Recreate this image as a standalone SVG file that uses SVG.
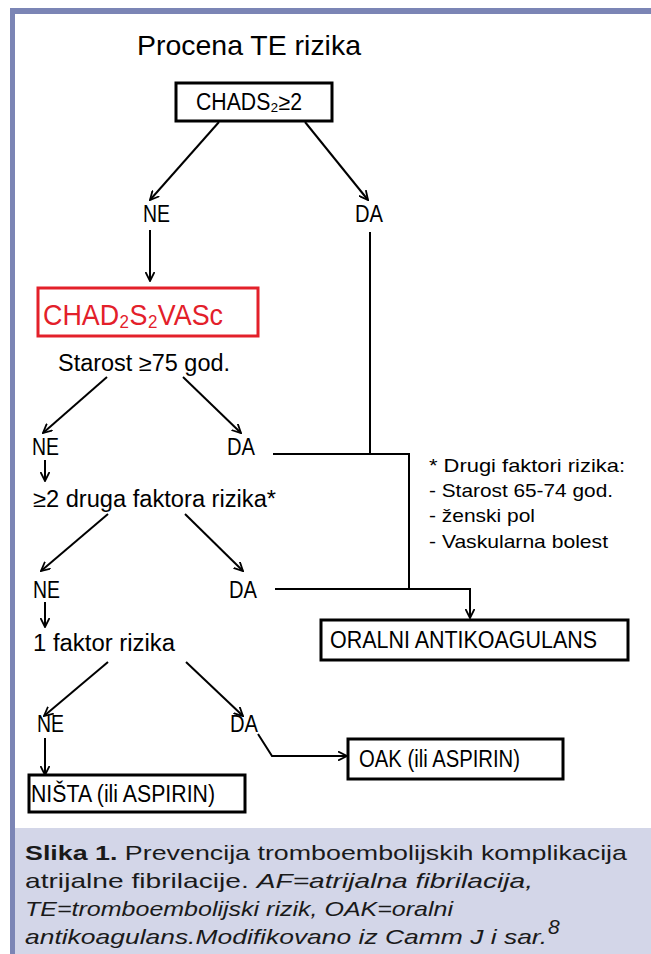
<svg xmlns="http://www.w3.org/2000/svg" width="651" height="954" viewBox="0 0 651 954">
<defs>
<style>
.t{font-family:"Liberation Sans",Arial,sans-serif;fill:#000}
.box{fill:#fff;stroke:#000;stroke-width:3}
.ln{fill:none;stroke:#000;stroke-width:2}
.cap{font-family:"Liberation Sans",Arial,sans-serif;font-size:21px;fill:#1a1a1a}
</style>
<marker id="ah" viewBox="0 0 10 10" refX="9" refY="5" markerWidth="10" markerHeight="10" markerUnits="userSpaceOnUse" orient="auto">
<path d="M0,0.5 L9,5 L0,9.5" fill="none" stroke="#000" stroke-width="1.8"/>
</marker>
</defs>
<rect x="0" y="0" width="651" height="954" fill="#fff"/>
<rect x="10" y="8" width="641" height="6" fill="#7b85b5"/>
<rect x="10" y="8" width="5" height="946" fill="#7b85b5"/>
<rect x="15" y="828" width="636" height="126" fill="#d3d6e8"/>

<g id="title"><text class="t" x="137" y="55" font-size="28" textLength="224" lengthAdjust="spacingAndGlyphs">Procena TE rizika</text></g>

<g id="connectors">
<line class="ln" x1="219" y1="122" x2="150" y2="200" marker-end="url(#ah)"/>
<line class="ln" x1="305" y1="122" x2="368" y2="200" marker-end="url(#ah)"/>
<line class="ln" x1="150" y1="230" x2="150" y2="281" marker-end="url(#ah)"/>
<line class="ln" x1="107" y1="377" x2="43" y2="433" marker-end="url(#ah)"/>
<line class="ln" x1="183" y1="377" x2="241" y2="433" marker-end="url(#ah)"/>
<line class="ln" x1="45" y1="460" x2="45" y2="481" stroke-width="1.6" marker-end="url(#ah)"/>
<line class="ln" x1="108" y1="514" x2="41" y2="571" marker-end="url(#ah)"/>
<line class="ln" x1="185" y1="514" x2="243" y2="571" marker-end="url(#ah)"/>
<line class="ln" x1="45" y1="602" x2="45" y2="627" stroke-width="1.6" marker-end="url(#ah)"/>
<line class="ln" x1="108" y1="662" x2="44" y2="716" marker-end="url(#ah)"/>
<line class="ln" x1="186" y1="662" x2="243" y2="716" marker-end="url(#ah)"/>
<line class="ln" x1="45" y1="738" x2="45" y2="775" stroke-width="1.6" marker-end="url(#ah)"/>
<polyline class="ln" points="258,734 272,756 347,756" marker-end="url(#ah)"/>
<polyline class="ln" points="370,232 370,454"/>
<polyline class="ln" points="273,454 409,454 409,589"/>
<polyline class="ln" points="275,589 470,589 470,618" marker-end="url(#ah)"/>
</g>

<g id="chads2">
<rect class="box" x="176" y="83" width="156" height="38"/>
<text class="t" x="196" y="110" font-size="23" textLength="106" lengthAdjust="spacingAndGlyphs">CHADS₂≥2</text>
</g>
<g id="ne1"><text class="t" x="143" y="222" font-size="23" textLength="27" lengthAdjust="spacingAndGlyphs">NE</text></g>
<g id="da1"><text class="t" x="355" y="222" font-size="23" textLength="28" lengthAdjust="spacingAndGlyphs">DA</text></g>

<g id="cha2ds2vasc">
<rect x="38" y="288" width="220" height="48" fill="#fff" stroke="#e3202a" stroke-width="3"/>
<text x="43" y="325" font-family="Liberation Sans, Arial, sans-serif" font-size="30" fill="#e3202a" textLength="180" lengthAdjust="spacingAndGlyphs">CHAD₂S₂VASc</text>
</g>
<g id="starost"><text class="t" x="58" y="371" font-size="23" textLength="172" lengthAdjust="spacingAndGlyphs">Starost ≥75 god.</text></g>
<g id="ne2"><text class="t" x="32" y="455" font-size="23" textLength="27" lengthAdjust="spacingAndGlyphs">NE</text></g>
<g id="da2"><text class="t" x="227" y="455" font-size="23" textLength="28" lengthAdjust="spacingAndGlyphs">DA</text></g>
<g id="druga"><text class="t" x="33" y="507" font-size="23" textLength="243" lengthAdjust="spacingAndGlyphs">≥2 druga faktora rizika*</text></g>
<g id="ne3"><text class="t" x="33" y="598" font-size="23" textLength="27" lengthAdjust="spacingAndGlyphs">NE</text></g>
<g id="da3"><text class="t" x="229" y="598" font-size="23" textLength="28" lengthAdjust="spacingAndGlyphs">DA</text></g>
<g id="faktor1"><text class="t" x="33" y="651" font-size="23" textLength="142" lengthAdjust="spacingAndGlyphs">1 faktor rizika</text></g>
<g id="ne4"><text class="t" x="37" y="732" font-size="23" textLength="27" lengthAdjust="spacingAndGlyphs">NE</text></g>
<g id="da4"><text class="t" x="230" y="732" font-size="23" textLength="28" lengthAdjust="spacingAndGlyphs">DA</text></g>

<g id="oralni">
<rect class="box" x="321" y="620" width="307" height="40"/>
<text class="t" x="330" y="648" font-size="23" textLength="267" lengthAdjust="spacingAndGlyphs">ORALNI ANTIKOAGULANS</text>
</g>
<g id="note">
<text class="t" x="429" y="472" font-size="19" textLength="196" lengthAdjust="spacingAndGlyphs">* Drugi faktori rizika:</text>
<text class="t" x="429" y="497" font-size="19" textLength="184" lengthAdjust="spacingAndGlyphs">- Starost 65-74 god.</text>
<text class="t" x="429" y="522" font-size="19" textLength="106" lengthAdjust="spacingAndGlyphs">- ženski pol</text>
<text class="t" x="429" y="548" font-size="19" textLength="179" lengthAdjust="spacingAndGlyphs">- Vaskularna bolest</text>
</g>
<g id="oak">
<rect class="box" x="348" y="739" width="215" height="40"/>
<text class="t" x="359" y="767" font-size="23" textLength="161" lengthAdjust="spacingAndGlyphs">OAK (ili ASPIRIN)</text>
</g>
<g id="nista">
<rect class="box" x="29" y="775" width="216" height="37"/>
<text class="t" x="31" y="802" font-size="23" textLength="184" lengthAdjust="spacingAndGlyphs">NIŠTA (ili ASPIRIN)</text>
</g>

<g id="caption">
<text class="cap" x="25" y="860" textLength="602" lengthAdjust="spacingAndGlyphs"><tspan font-weight="bold">Slika 1.</tspan> Prevencija tromboembolijskih komplikacija</text>
<text class="cap" x="25" y="888" textLength="508" lengthAdjust="spacingAndGlyphs">atrijalne fibrilacije. <tspan font-style="italic">AF=atrijalna fibrilacija,</tspan></text>
<text class="cap" x="25" y="916" font-style="italic" textLength="428" lengthAdjust="spacingAndGlyphs">TE=tromboembolijski rizik, OAK=oralni</text>
<text class="cap" x="25" y="944" font-style="italic" textLength="522" lengthAdjust="spacingAndGlyphs">antikoagulans.Modifikovano iz Camm J i sar.</text>
<text class="cap" x="548" y="934" font-style="italic" font-size="13">8</text>
</g>
</svg>
